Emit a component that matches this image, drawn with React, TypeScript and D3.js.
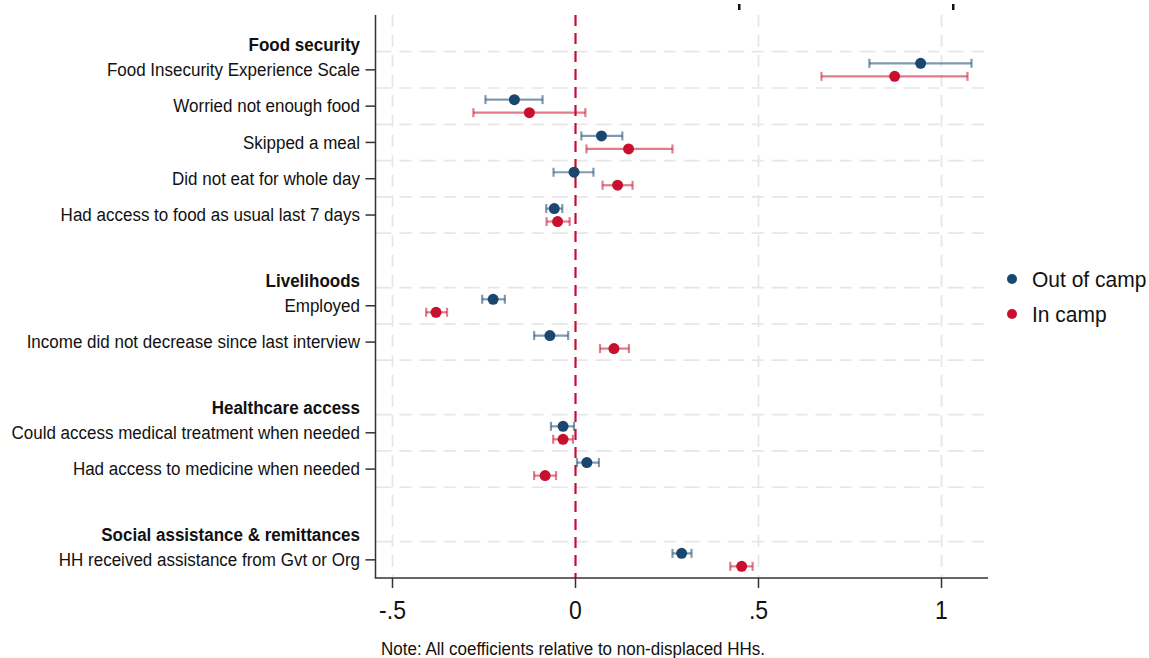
import React from "react";
import * as d3 from "d3";

const groupNames = ["Food security", "Livelihoods", "Healthcare access", "Social assistance & remittances"];
const itemLabels = [
  "Food Insecurity Experience Scale",
  "Worried not enough food",
  "Skipped a meal",
  "Did not eat for whole day",
  "Had access to food as usual last 7 days",
  "Employed",
  "Income did not decrease since last interview",
  "Could access medical treatment when needed",
  "Had access to medicine when needed",
  "HH received assistance from Gvt or Org",
];
const itemGroup = [0, 0, 0, 0, 0, 1, 1, 2, 2, 3];

const outEst = [0.943, -0.167, 0.071, -0.004, -0.058, -0.225, -0.070, -0.034, 0.031, 0.290];
const outLo = [0.803, -0.246, 0.016, -0.060, -0.080, -0.255, -0.113, -0.067, 0.004, 0.265];
const outHi = [1.082, -0.090, 0.128, 0.049, -0.036, -0.193, -0.020, -0.004, 0.064, 0.317];

const inEst = [0.872, -0.126, 0.145, 0.115, -0.049, -0.381, 0.105, -0.034, -0.083, 0.454];
const inLo = [0.672, -0.279, 0.030, 0.074, -0.079, -0.408, 0.067, -0.061, -0.113, 0.423];
const inHi = [1.071, 0.027, 0.265, 0.156, -0.016, -0.351, 0.146, -0.007, -0.053, 0.484];

const xTicks = [-0.5, 0, 0.5, 1];
const xTickLabels = ["-.5", "0", ".5", "1"];
const seriesNames = ["Out of camp", "In camp"];
const noteText = "Note: All coefficients relative to non-displaced HHs.";

const BLUE = "#1a476f";
const RED = "#c8102e";
const FONT = "'Liberation Sans', Arial, Helvetica, sans-serif";

function SText(props: {
  x: number;
  y: number;
  sy: number;
  size: number;
  anchor?: string;
  bold?: boolean;
  baseline?: string;
  children: React.ReactNode;
}) {
  return (
    <text
      transform={`translate(${props.x},${props.y}) scale(1,${props.sy})`}
      textAnchor={props.anchor || "start"}
      dominantBaseline={props.baseline || "central"}
      fontSize={props.size}
      fontWeight={props.bold ? "bold" : "normal"}
      fill="#111"
    >
      {props.children}
    </text>
  );
}

export default function App() {
  React.useEffect(() => {
    document.body.style.margin = "0";
  }, []);

  const rowPos: number[] = [];
  const headPos: number[] = [];
  let r = 0;
  itemGroup.forEach((g, i) => {
    if (i > 0 && g !== itemGroup[i - 1]) r += 2.5;
    else if (i > 0) r += 1;
    if (i === 0 || g !== itemGroup[i - 1]) headPos[g] = r - 0.7;
    rowPos.push(r);
  });

  const x = d3.scaleLinear().domain([-0.5, 1]).range([392.5, 941.5]);
  const y = d3.scaleLinear().domain([-1.5, 14]).range([15.4, 578]);

  const left = 375.5;
  const right = 988;
  const top = 15;
  const bottom = 578;

  const gridRows = new Set<number>();
  rowPos.forEach((p) => {
    gridRows.add(p - 0.5);
    gridRows.add(p + 0.5);
  });
  const gridYs = Array.from(gridRows).filter((g) => y(g) < bottom - 2);

  const off = 6.5;
  const series = [
    { est: outEst, lo: outLo, hi: outHi, color: BLUE, dy: -off },
    { est: inEst, lo: inLo, hi: inHi, color: RED, dy: off },
  ];

  return (
    <svg
      width={1149}
      height={658}
      style={{ position: "absolute", left: 0, top: 0, display: "block", background: "#fff" }}
      fontFamily={FONT}
    >
      <rect width={1149} height={658} fill="#fff" />
      <rect x={738} y={4} width={2.5} height={6} fill="#111" />
      <rect x={952} y={4} width={2.5} height={6} fill="#111" />

      {xTicks
        .filter((t) => t !== 0)
        .map((t) => (
          <line key={"vg" + t} x1={x(t)} x2={x(t)} y1={top} y2={bottom} stroke="#e6e6e6" strokeWidth={1.7} strokeDasharray="12,8" />
        ))}
      {gridYs.map((g) => (
        <line key={"hg" + g} x1={left} x2={right} y1={y(g)} y2={y(g)} stroke="#e6e6e6" strokeWidth={1.7} strokeDasharray="16,8,12,8" />
      ))}

      <line x1={x(0)} x2={x(0)} y1={top} y2={bottom} stroke={RED} strokeWidth={2.2} strokeDasharray="11,7" />

      <line x1={left} x2={left} y1={top} y2={bottom} stroke="#333" strokeWidth={1.5} />
      <line x1={left - 0.75} x2={right} y1={bottom} y2={bottom} stroke="#333" strokeWidth={1.5} />
      {xTicks.map((t, i) => (
        <g key={"xt" + t}>
          <line x1={x(t)} x2={x(t)} y1={bottom} y2={bottom + 10} stroke="#333" strokeWidth={1.5} />
          <SText x={x(t)} y={bottom + 32} sy={1.15} size={23} anchor="middle">
            {xTickLabels[i]}
          </SText>
        </g>
      ))}

      {rowPos.map((p, i) => (
        <g key={"yl" + i}>
          <line x1={left - 10} x2={left} y1={y(p)} y2={y(p)} stroke="#333" strokeWidth={1.5} />
          <SText x={360} y={y(p)} sy={1.07} size={17} anchor="end">
            {itemLabels[i]}
          </SText>
        </g>
      ))}
      {headPos.map((p, g) => (
        <SText key={"h" + g} x={360} y={y(p)} sy={1.07} size={17} anchor="end" bold>
          {groupNames[g]}
        </SText>
      ))}

      {series.map((s, si) => (
        <g key={"s" + si}>
          {rowPos.map((p, i) => {
            const yy = y(p) + s.dy;
            return (
              <g key={i}>
                <g stroke={s.color} strokeOpacity={0.55} strokeWidth={2.2}>
                  <line x1={x(s.lo[i])} x2={x(s.hi[i])} y1={yy} y2={yy} />
                  <line x1={x(s.lo[i])} x2={x(s.lo[i])} y1={yy - 4.5} y2={yy + 4.5} />
                  <line x1={x(s.hi[i])} x2={x(s.hi[i])} y1={yy - 4.5} y2={yy + 4.5} />
                </g>
                <circle cx={x(s.est[i])} cy={yy} r={5.5} fill={s.color} />
              </g>
            );
          })}
        </g>
      ))}

      {seriesNames.map((n, i) => (
        <g key={"lg" + i}>
          <circle cx={1012} cy={279 + i * 35} r={5} fill={i === 0 ? BLUE : RED} />
          <SText x={1032} y={280 + i * 35} sy={1.05} size={21}>
            {n}
          </SText>
        </g>
      ))}

      <SText x={381} y={655} sy={1.07} size={17} baseline="auto">
        {noteText}
      </SText>
    </svg>
  );
}
